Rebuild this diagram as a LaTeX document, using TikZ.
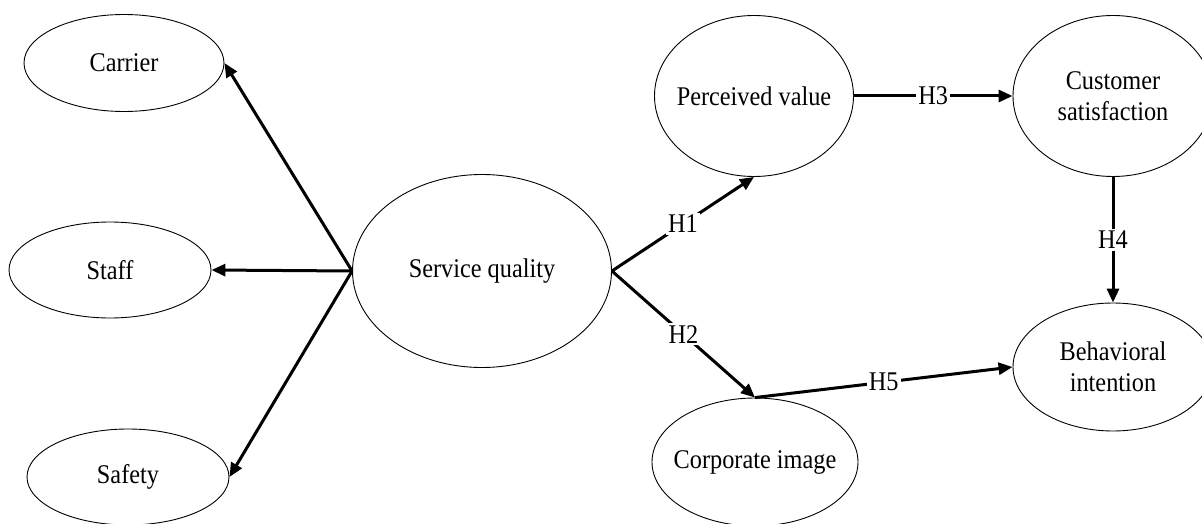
\documentclass[tikz,border=0pt]{standalone}
\usepackage{fontspec}
\setmainfont{Liberation Serif}[FakeStretch=0.9]
\usepackage{tikz}
\usetikzlibrary{shapes,arrows,positioning,calc,arrows.meta}

\tikzset{
  construct/.style={draw, ellipse, line width=0.9pt, inner xsep=-10pt, inner ysep=0pt,
    align=center, font=\fontsize{27}{31}\selectfont},
  path/.style={line width=3pt, -{Triangle[length=14pt,width=12pt]}},
  hyp/.style={fill=white, inner sep=2pt, font=\fontsize{27}{31}\selectfont}
}

\begin{document}
\begin{tikzpicture}[x=1pt, y=-1pt]
  \useasboundingbox (0,0) rectangle (1202,524);

  % dimensions
  \node[construct, minimum width=200pt, minimum height=97pt] (carrier) at (124,63) {Carrier};
  \node[construct, minimum width=202pt, minimum height=96pt] (staff) at (110,270) {Staff};
  \node[construct, minimum width=202pt, minimum height=96pt] (safety) at (128,477) {Safety};

  % constructs
  \node[construct, minimum width=259pt, minimum height=193pt] (sq) at (482,271) {Service quality};
  \node[construct, minimum width=199pt, minimum height=161pt] (pv) at (754,96) {Perceived value};
  \node[construct, minimum width=206pt, minimum height=128pt] (ci) at (755,462) {Corporate image};
  \node[construct, minimum width=200pt, minimum height=161pt] (cs) at (1113,96) {Customer\\satisfaction};
  \node[construct, minimum width=200pt, minimum height=128pt] (bi) at (1113,367) {Behavioral\\intention};

  % paths
  \draw[path] (sq.west) -- (carrier.east);
  \draw[path] (sq.west) -- (staff.east);
  \draw[path] (sq.west) -- (safety.east);

  \draw[path] (sq.east) -- node[hyp] {H1} (pv.south);
  \draw[path] (sq.east) -- node[hyp] {H2} (ci.north);
  \draw[path] (pv.east) -- node[hyp] {H3} (cs.west);
  \draw[path] (cs.south) -- node[hyp] {H4} (bi.north);
  \draw[path] (ci.north) -- node[hyp] {H5} (bi.west);
\end{tikzpicture}
\end{document}
